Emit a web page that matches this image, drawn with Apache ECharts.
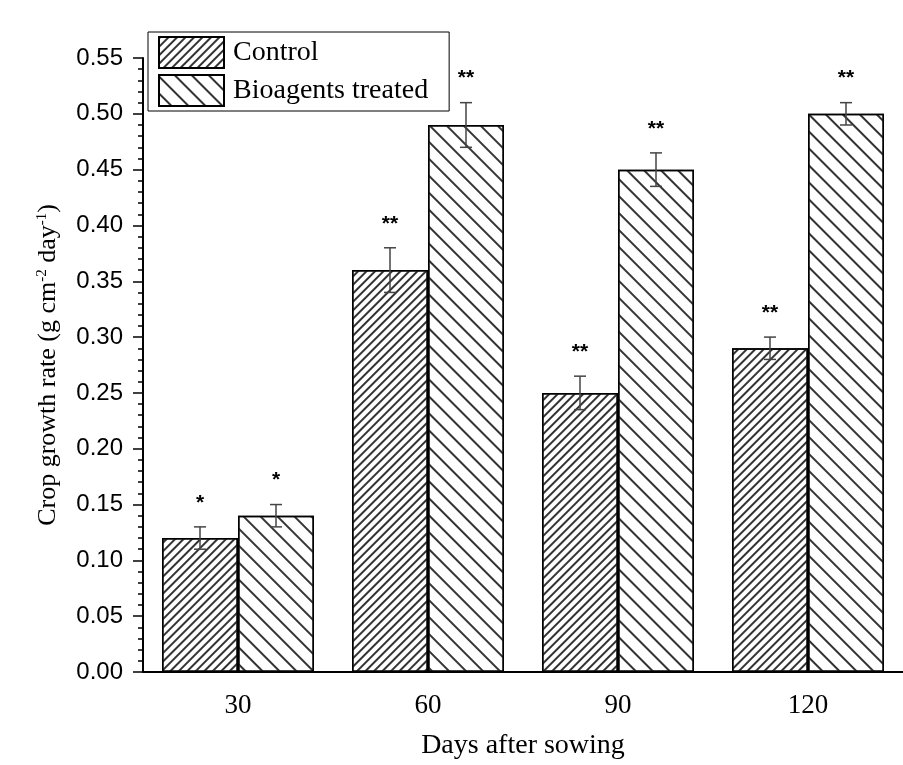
<!DOCTYPE html>
<html>
<head>
<meta charset="utf-8">
<script src="https://cdn.jsdelivr.net/npm/echarts@6/dist/echarts.min.js"></script>
<style>
html,body{margin:0;padding:0;background:#fff;}
#chart{width:903px;height:765px;}
</style>
</head>
<body>
<div id="chart"></div>
<script>
const categories = ['30', '60', '90', '120'];
const controlValues = [0.12, 0.36, 0.25, 0.29];
const controlErrors = [0.01, 0.02, 0.015, 0.01];
const controlStars = ['*', '**', '**', '**'];
const treatedValues = [0.14, 0.49, 0.45, 0.50];
const treatedErrors = [0.01, 0.02, 0.015, 0.01];
const treatedStars = ['*', '**', '**', '**'];
const seriesNames = ['Control', 'Bioagents treated'];

const chart = echarts.init(document.getElementById('chart'));

function errData(vals, errs) {
  return vals.map(function (v, i) { return [i, v, errs[i]]; });
}
function errSeries(vals, errs, stars, side) {
  return {
    type: 'custom',
    z: 10,
    silent: true,
    data: errData(vals, errs),
    encode: { x: 0, y: 1 },
    renderItem: function (params, api) {
      const cat = api.value(0), v = api.value(1), e = api.value(2);
      const band = api.size([1, 0])[0];
      const off = side * band * 0.2;
      const top = api.coord([cat, v + e]);
      const bot = api.coord([cat, v - e]);
      const x = top[0] + off;
      const cap = 6;
      const ls = { stroke: '#444', lineWidth: 1.5 };
      return {
        type: 'group',
        children: [
          { type: 'line', shape: { x1: x, y1: top[1], x2: x, y2: bot[1] }, style: ls },
          { type: 'line', shape: { x1: x - cap, y1: top[1], x2: x + cap, y2: top[1] }, style: ls },
          { type: 'line', shape: { x1: x - cap, y1: bot[1], x2: x + cap, y2: bot[1] }, style: ls },
          { type: 'text', x: x, y: top[1] - 24, style: {
              text: stars[params.dataIndex], fill: '#000',
              font: 'bold 21px "Liberation Sans", Arial, sans-serif',
              align: 'center', verticalAlign: 'middle' } }
        ]
      };
    }
  };
}

const option = {
  backgroundColor: '#fff',
  animation: false,
  grid: { left: 143, right: 0, top: 58, bottom: 92 },
  legend: {
    data: seriesNames,
    orient: 'vertical',
    left: 148, top: 32,
    itemWidth: 65, itemHeight: 31, itemGap: 5,
    padding: [4, 21, 4, 10],
    borderColor: '#000', borderWidth: 1,
    backgroundColor: '#fff',
    icon: 'rect',
    textStyle: { fontFamily: '"Liberation Serif", "Times New Roman", serif', fontSize: 28, color: '#000', padding: [0, 0, 0, 4] }
  },
  xAxis: {
    type: 'category',
    data: categories,
    name: 'Days after sowing',
    nameLocation: 'middle',
    nameGap: 60,
    nameTextStyle: { fontFamily: '"Liberation Serif", "Times New Roman", serif', fontSize: 28, color: '#000' },
    axisLine: { lineStyle: { color: '#000', width: 2 } },
    axisTick: { alignWithLabel: true, length: 12, lineStyle: { color: '#000', width: 1.5 } },
    axisLabel: { fontFamily: '"Liberation Serif", "Times New Roman", serif', fontSize: 27, color: '#000', margin: 20 }
  },
  yAxis: {
    type: 'value',
    min: 0, max: 0.55, interval: 0.05,
    name: '{a|Crop growth rate (g cm}{s|-2}{a| day}{s|-1}{a|)}',
    nameLocation: 'middle',
    nameRotate: 90,
    nameGap: 82,
    nameTextStyle: {
      rich: {
        a: { fontFamily: '"Liberation Serif", "Times New Roman", serif', fontSize: 26, color: '#000' },
        s: { fontFamily: '"Liberation Serif", "Times New Roman", serif', fontSize: 15, color: '#000', verticalAlign: 'top' }
      }
    },
    axisLine: { show: true, lineStyle: { color: '#000', width: 2 } },
    axisTick: { show: true, length: 10, lineStyle: { color: '#000', width: 1.5 } },
    minorTick: { show: true, splitNumber: 5, length: 5, lineStyle: { color: '#000', width: 1.5 } },
    splitLine: { show: false },
    axisLabel: {
      fontFamily: '"Liberation Sans", Arial, sans-serif', fontSize: 24, color: '#000', margin: 20,
      formatter: function (v) { return v.toFixed(2); }
    }
  },
  series: [
    {
      name: seriesNames[0], type: 'bar', data: controlValues,
      barGap: '0%', barCategoryGap: '20%',
      itemStyle: {
        color: '#fff', borderColor: '#000', borderWidth: 1.5,
        decal: { symbol: 'rect', symbolSize: 1, dashArrayX: [1, 0], dashArrayY: [1.1, 4], rotation: -Math.PI / 4, color: '#333' }
      }
    },
    {
      name: seriesNames[1], type: 'bar', data: treatedValues,
      barGap: '0%', barCategoryGap: '20%',
      itemStyle: {
        color: '#fff', borderColor: '#000', borderWidth: 1.5,
        decal: { symbol: 'rect', symbolSize: 1, dashArrayX: [1, 0], dashArrayY: [1.1, 10], rotation: Math.PI / 4, color: '#333' }
      }
    },
    errSeries(controlValues, controlErrors, controlStars, -1),
    errSeries(treatedValues, treatedErrors, treatedStars, 1)
  ]
};
chart.setOption(option);
</script>
</body>
</html>
